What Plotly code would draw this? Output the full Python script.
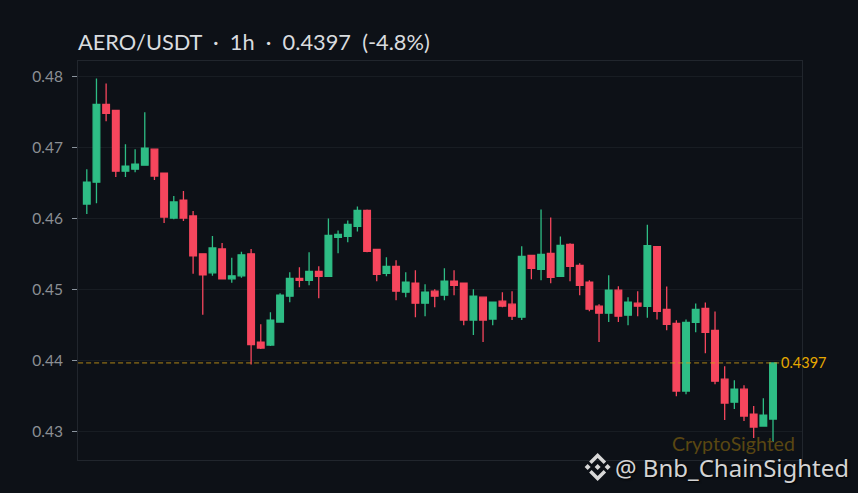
import plotly.graph_objects as go

opens = [.46208,.46516,.47612,.47527,.46671,.46699,.46755,.4698,.46643,.46011,.46264,.46039,.45506,.45239,.45576,.45155,.45197,.45506,
         .44264,.44222,.44545,.4491,.45162,.45134,.4526,.4519,.45738,.45752,.45892,.46117,.45569,.45232,.45331,.44966,.45092,.44811,.4498,.44924,
         .4512,.45092,.44573,.44896,.44587,.44839,.44797,.44615,.45485,.45289,.45513,.4519,.4564,.45345,.45106,.44769,.44671,.44994,.44643,.44811,
         .44766,.45608,.44724,.44527,.43573,.44541,.44738,.44429,.43741,.43418,.43601,.4325,.43081,.4318]
closes = [.46516,.47612,.47485,.46671,.46741,.46769,.46994,.46601,.46025,.46236,.46011,.45477,.45211,.4559,.45155,.45197,.45492,.44228,
          .44179,.44573,.44924,.45162,.45134,.4526,.4519,.45766,.4578,.4592,.46117,.45541,.45218,.45331,.4498,.45106,.44811,.44966,.4491,.4512,
          .45064,.44573,.4491,.44573,.44825,.44769,.44629,.45471,.45303,.45499,.45176,.45626,.45331,.45064,.44727,.44671,.44994,.44629,.44825,.44769,
          .45622,.44696,.44513,.43573,.44541,.44724,.44401,.43713,.43404,.43601,.43222,.43067,.43236,.4397]
highs = [.46699,.47977,.47906,.47527,.4705,.4698,.47499,.4698,.46643,.4632,.4639,.46109,.45506,.45758,.4566,.4545,.45534,.45576,
         .44516,.44685,.44952,.45247,.45317,.45527,.45331,.46005,.45836,.45977,.46173,.46131,.45569,.45457,.45415,.45247,.45275,.45078,.45008,.45303,
         .45275,.45092,.45008,.44896,.44825,.44966,.4498,.45612,.45485,.46131,.46019,.45752,.45654,.45373,.45134,.44797,.45204,.4505,.44896,.44978,
         .45917,.45608,.45047,.4457,.44583,.44808,.44822,.44696,.43924,.43727,.43657,.43362,.43474,.4397]
lows = [.46067,.46217,.47373,.46587,.46587,.46657,.46755,.46545,.45941,.45992,.45969,.45225,.44649,.45197,.4515,.45098,.45169,.43947,
        .44165,.44208,.4454,.44825,.45036,.45064,.44881,.4519,.45513,.45668,.45822,.45527,.4512,.4519,.44853,.44896,.44615,.44629,.44755,.44853,
        .44924,.44502,.44362,.44264,.44502,.44755,.44573,.44573,.45148,.45134,.45092,.4519,.4512,.44924,.44699,.44264,.44545,.44545,.44502,.44629,
        .44607,.44583,.44429,.43502,.4353,.44401,.44106,.43671,.43165,.4332,.43151,.42913,.43081,.42857]
candles = list(range(len(opens)))
y_ticks = [0.43, 0.44, 0.45, 0.46, 0.47, 0.48]
last_price = 0.4397

W, H = 858, 493
L, R, T, B = 77.5, 802.0, 60.5, 460.0
def px(x): return (x - L) / (R - L)
def py(y): return (B - y) / (B - T)

def poly(points):
    return "M " + " L ".join(f"{px(x)} {py(y)}" for x, y in points) + " Z"

def diamond(cx, cy, r):
    return poly([(cx - r, cy), (cx, cy - r), (cx + r, cy), (cx, cy + r)])

fig = go.Figure(go.Candlestick(
    x=candles, open=opens, high=highs, low=lows, close=closes,
    increasing=dict(line=dict(color="#2EBD85", width=1.3), fillcolor="#2EBD85"),
    decreasing=dict(line=dict(color="#F6465D", width=1.3), fillcolor="#F6465D"),
    whiskerwidth=0, showlegend=False, hoverinfo="skip",
))

shapes = [dict(type="line", xref="x", yref="y", x0=-0.9, x1=71.7, y0=last_price, y1=last_price,
               line=dict(color="rgba(212,160,23,0.8)", width=1, dash="5px,3px"), layer="above")]
LOGO_X, LOGO_Y = 597.5, 467
logo_paths = [
    poly([(LOGO_X, LOGO_Y - 14), (LOGO_X + 8.5, LOGO_Y - 5.5), (LOGO_X + 6, LOGO_Y - 3), (LOGO_X, LOGO_Y - 9), (LOGO_X - 6, LOGO_Y - 3), (LOGO_X - 8.5, LOGO_Y - 5.5)]),
    poly([(LOGO_X, LOGO_Y + 14), (LOGO_X + 8.5, LOGO_Y + 5.5), (LOGO_X + 6, LOGO_Y + 3), (LOGO_X, LOGO_Y + 9), (LOGO_X - 6, LOGO_Y + 3), (LOGO_X - 8.5, LOGO_Y + 5.5)]),
    diamond(LOGO_X - 10, LOGO_Y, 3), diamond(LOGO_X + 10, LOGO_Y, 3), diamond(LOGO_X, LOGO_Y, 3),
]
for p in logo_paths:
    shapes.append(dict(type="path", xref="paper", yref="paper", path=p, fillcolor="#d8d8d8", line=dict(width=0)))

annots = [
    dict(text="AERO/USDT\u00a0\u00a0·\u00a0\u00a01h\u00a0\u00a0·\u00a0\u00a00.4397\u00a0\u00a0(-4.8%)",
         xref="paper", yref="paper", x=px(75.5), y=py(40.5), xanchor="left", yanchor="middle", showarrow=False,
         font=dict(family="Lato", size=21.8, color="#d9dcdf")),
    dict(text="0.4397", xref="paper", yref="y", x=px(779), y=last_price, xanchor="left", yanchor="middle",
         showarrow=False, font=dict(family="Lato", size=14.5, color="#E6A800")),
    dict(text="CryptoSighted", xref="paper", yref="paper", x=px(797), y=py(443), xanchor="right", yanchor="middle",
         showarrow=False, font=dict(family="Lato", size=19.5, color="#5a4712")),
    dict(text="@ Bnb_ChainSighted", xref="paper", yref="paper", x=px(851), y=py(467.5), xanchor="right", yanchor="middle",
         showarrow=False, font=dict(family="Noto Sans", size=24, color="#d4d4d4", shadow="1px 1px 2px #000000")),
]

fig.update_layout(
    width=W, height=H, autosize=False,
    margin=dict(l=L, r=W - R, t=T, b=H - B, pad=0),
    paper_bgcolor="#0d1117", plot_bgcolor="#0d1117",
    shapes=shapes, annotations=annots, showlegend=False,
    boxgap=0.17, boxgroupgap=0.17,
    xaxis=dict(range=[-0.91, 74.0], rangeslider=dict(visible=False), showgrid=False, zeroline=False,
               showticklabels=False, ticks="", showline=True, linecolor="#21262d", linewidth=1, mirror=True),
    yaxis=dict(range=[0.42603, 0.48222], tickvals=y_ticks, ticktext=[f"{v:.2f}" for v in y_ticks],
               showgrid=True, gridcolor="#181d23", gridwidth=1, zeroline=False,
               ticks="outside", ticklen=5, tickwidth=1, tickcolor="#8b949e",
               tickfont=dict(family="Lato", size=15.5, color="#8b8f94"), ticklabelstandoff=6,
               showline=True, linecolor="#21262d", linewidth=1, mirror=True),
)
fig.write_html("out.html", config=dict(displayModeBar=False),
               post_script="document.body.style.margin='0';document.body.style.background='#0d1117';")
